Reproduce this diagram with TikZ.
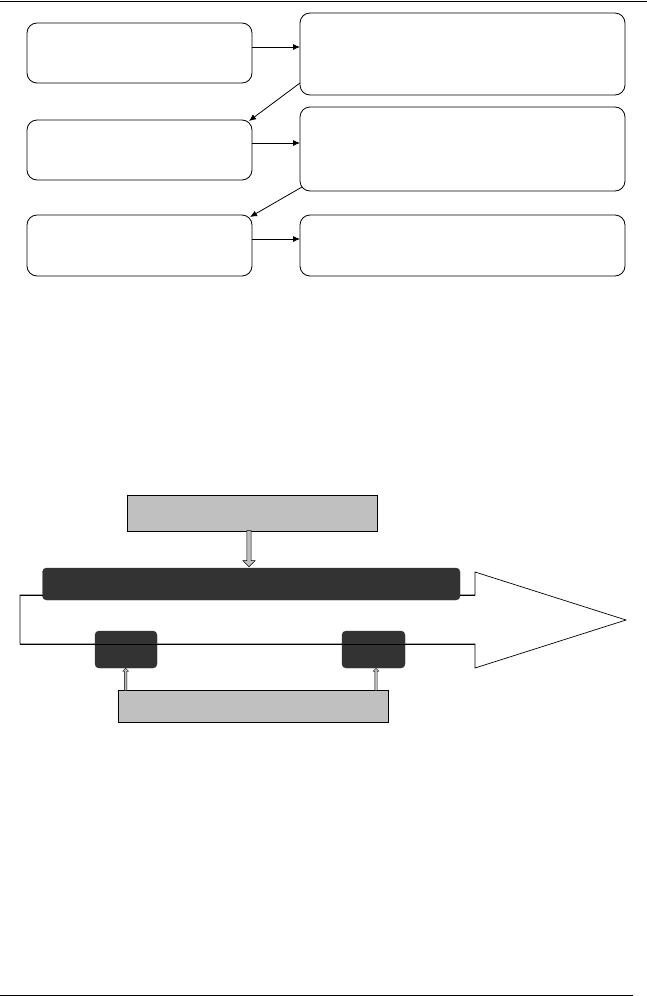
\documentclass[tikz,border=0pt]{standalone}
\usetikzlibrary{shapes.arrows,arrows.meta}
\definecolor{lgray}{HTML}{C0C0C0}
\definecolor{dgray}{HTML}{333333}
\begin{document}
\begin{tikzpicture}[x=1pt,y=-1pt,
  rbox/.style={draw=black,line width=0.8pt,rounded corners=10pt},
  conn/.style={draw=black,line width=0.8pt,-{Latex[length=7pt,width=6pt]}},
  graybox/.style={draw=black,fill=lgray,line width=0.7pt},
  darkbox/.style={draw=dgray,fill=dgray,rounded corners=4pt},
  outline/.style={draw=black,line width=0.7pt},
  rule/.style={draw=black,line width=0.9pt}]
\useasboundingbox (0,0) rectangle (647,996);
% header/footer rules
\coordinate (tl) at (0,1.5); \coordinate (tr) at (647,1.5);
\draw[rule] (tl) -- (tr);
\coordinate (bl) at (0,995); \coordinate (br) at (633,995);
\draw[rule] (bl) -- (br);
% top flow boxes
\draw[rbox] (27,23) rectangle (252,83) node[pos=0.5] (a1) {};
\draw[rbox] (300,13) rectangle (625,95) node[pos=0.5] (b1) {};
\draw[rbox] (27,120) rectangle (252,180) node[pos=0.5] (a2) {};
\draw[rbox] (300,107) rectangle (625,191) node[pos=0.5] (b2) {};
\draw[rbox] (27,215) rectangle (252,276) node[pos=0.5] (a3) {};
\draw[rbox] (300,215) rectangle (625,276) node[pos=0.5] (b3) {};
\coordinate (a1r) at (252,47); \coordinate (b1l) at (300,47);
\coordinate (a2r) at (252,143); \coordinate (b2l) at (300,143);
\coordinate (a3r) at (252,239); \coordinate (b3l) at (300,239);
\coordinate (b1bl) at (300,83); \coordinate (a2tr) at (249,121);
\coordinate (b2bl) at (302,187); \coordinate (a3tr) at (250,217);
\draw[conn] (a1r) -- (b1l);
\draw[conn] (a2r) -- (b2l);
\draw[conn] (a3r) -- (b3l);
\draw[conn] (b1bl) -- (a2tr);
\draw[conn] (b2bl) -- (a3tr);
% bottom diagram
\draw[outline] (20,595) -- (475,595) -- (475,572) -- (626,620) -- (475,668) -- (475,644) -- (20,644) -- cycle;
\node[graybox,minimum width=250pt,minimum height=36pt,inner sep=0pt] (top) at (252,513) {};
\draw[darkbox] (42.5,568) rectangle (460,600) node[pos=0.5] (bar) {};
\draw[outline] (20,595) -- (42.5,595);
\draw[outline] (460,595) -- (475,595);
\node[darkbox,minimum width=62pt,minimum height=37pt,inner sep=0pt] (s1) at (126,649.5) {};
\node[darkbox,minimum width=63pt,minimum height=37pt,inner sep=0pt] (s2) at (373.5,649.5) {};
\draw[outline] (20,644) -- (475,644);
\node[graybox,minimum width=270pt,minimum height=32pt,inner sep=0pt] (bot) at (253,706) {};
% block arrows
\node[single arrow,draw=black,fill=lgray,line width=0.5pt,shape border rotate=270,
  minimum width=12pt,single arrow head extend=3pt,single arrow head indent=0pt,
  minimum height=36pt,inner sep=1.5pt,anchor=tip] (dn) at (249,567) {};
\node[single arrow,draw=black,fill=lgray,line width=0.4pt,shape border rotate=90,
  minimum width=6pt,single arrow head extend=1.5pt,
  minimum height=22pt,inner sep=0.8pt,anchor=tip] (up1) at (125.6,668) {};
\node[single arrow,draw=black,fill=lgray,line width=0.4pt,shape border rotate=90,
  minimum width=6pt,single arrow head extend=1.5pt,
  minimum height=22pt,inner sep=0.8pt,anchor=tip] (up2) at (376,668) {};
\end{tikzpicture}
\end{document}
